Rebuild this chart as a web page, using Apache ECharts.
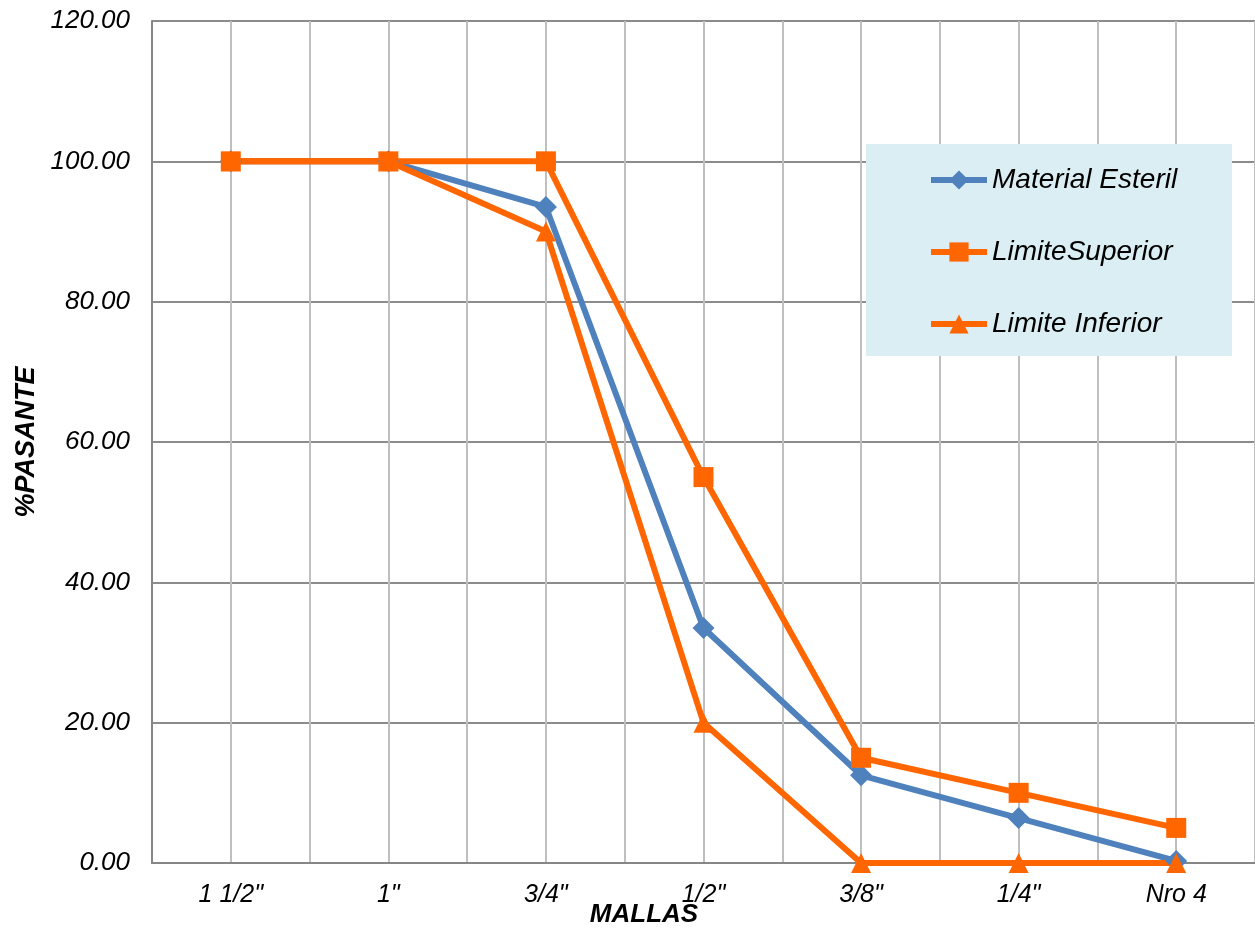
<!DOCTYPE html>
<html>
<head>
<meta charset="utf-8">
<script src="https://cdn.jsdelivr.net/npm/echarts@6/dist/echarts.min.js"></script>
<style>
  html, body { margin: 0; padding: 0; background: #fff; }
  #chart { width: 1255px; height: 929px; }
</style>
</head>
<body>
<div id="chart"></div>
<script>
	'use strict'
	var mallas = ['1 1/2"', '1"', '3/4"', '1/2"', '3/8"', '1/4"', 'Nro 4'];
	var materialEsteril = [100, 100, 93.5, 33.5, 12.5, 6.4, 0.3];
	var limiteSuperior = [100, 100, 100, 55, 15, 10, 5];
	var limiteInferior = [100, 100, 90, 20, 0, 0, 0];

	var font = 'Arial, "Liberation Sans", sans-serif';
	var blue = '#4f81bd';
	var orange = '#ff6600';

	var chart = echarts.init(document.getElementById('chart'));
	var option = {
		animation: false,
		grid: {
			left: 152,
			right: 0,
			top: 21,
			bottom: 66,
			outerBoundsMode: 'none',
			containLabel: false
		},
		graphic: [{
			type: 'rect',
			z: 3,
			shape: { x: 866, y: 144, width: 366, height: 212 },
			style: { fill: '#daeef3' }
		}, {
			// x axis title sits left of centre and overlaps the labels a little
			type: 'text',
			z: 5,
			x: 644,
			y: 915,
			style: {
				text: 'MALLAS',
				fontFamily: font,
				fontStyle: 'italic',
				fontWeight: 'bold',
				fontSize: 26,
				fill: '#000',
				align: 'center',
				verticalAlign: 'middle'
			}
		}],
		legend: {
			z: 5,
			orient: 'vertical',
			left: 928,
			top: 166,
			padding: 0,
			itemWidth: 56,
			itemHeight: 24,
			itemGap: 44,
			lineStyle: { width: 6 },
			textStyle: {
				fontFamily: font,
				fontStyle: 'italic',
				fontSize: 28,
				color: '#000'
			}
		},
		xAxis: [{
			type: 'category',
			data: mallas,
			boundaryGap: true,
			axisLine: { lineStyle: { color: '#868686', width: 2 } },
			axisTick: { show: false },
			splitLine: { show: false },
			axisLabel: {
				margin: 20,
				fontFamily: font,
				fontStyle: 'italic',
				fontSize: 25,
				color: '#000'
			}
		}, {
			// helper axis for the half-category vertical grid
			type: 'value',
			min: 0,
			max: 14,
			interval: 1,
			position: 'bottom',
			axisLine: { show: false },
			axisTick: { show: false },
			axisLabel: { show: false },
			splitLine: { show: true, lineStyle: { color: '#bfbfbf', width: 2 } }
		}],
		yAxis: {
			type: 'value',
			min: 0,
			max: 120,
			interval: 20,
			name: '%PASANTE',
			nameLocation: 'middle',
			nameGap: 112,
			nameRotate: 90,
			nameTextStyle: {
				fontFamily: font,
				fontStyle: 'italic',
				fontWeight: 'bold',
				fontSize: 27,
				color: '#000'
			},
			axisLine: { show: true, lineStyle: { color: '#868686', width: 2 } },
			axisTick: { show: false },
			splitLine: { lineStyle: { color: '#8c8c8c', width: 2 } },
			axisLabel: {
				margin: 22,
				fontFamily: font,
				fontStyle: 'italic',
				fontSize: 26,
				color: '#000',
				formatter: function (v) { return v.toFixed(2); }
			}
		},
		series: [{
			name: 'Material Esteril',
			type: 'line',
			data: materialEsteril,
			symbol: 'diamond',
			symbolSize: 22,
			color: blue,
			lineStyle: { width: 6, color: blue },
			itemStyle: { color: blue }
		}, {
			name: 'LimiteSuperior',
			type: 'line',
			data: limiteSuperior,
			symbol: 'rect',
			symbolSize: 20,
			color: orange,
			lineStyle: { width: 6, color: orange },
			itemStyle: { color: orange }
		}, {
			name: 'Limite Inferior',
			type: 'line',
			data: limiteInferior,
			symbol: 'triangle',
			symbolSize: 20,
			color: orange,
			lineStyle: { width: 6, color: orange },
			itemStyle: { color: orange }
		}]
	};
	chart.setOption(option);
</script>
</body>
</html>
